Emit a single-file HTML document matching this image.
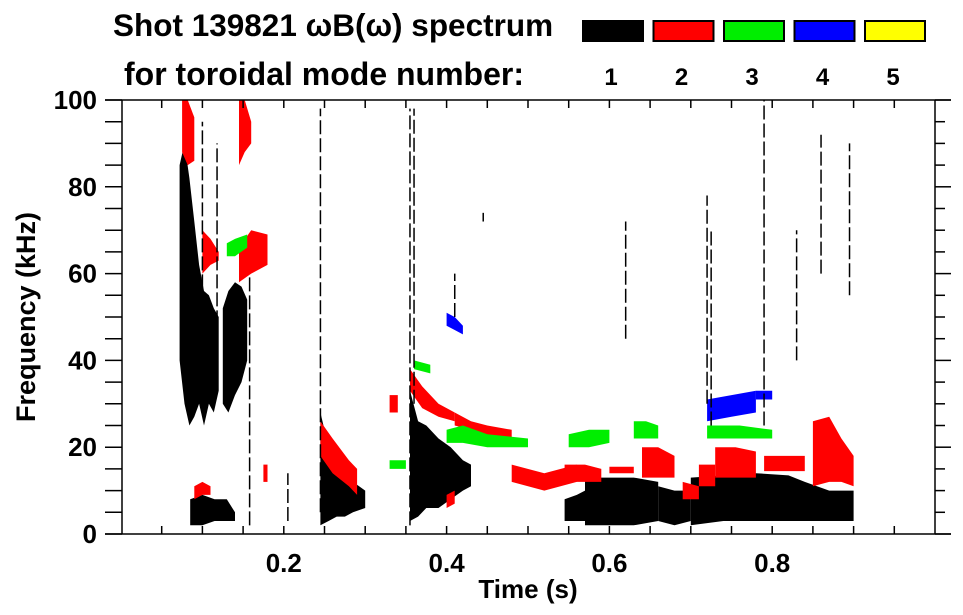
<!DOCTYPE html>
<html><head><meta charset="utf-8"><style>
html,body{margin:0;padding:0;background:#fff}
svg{display:block;font-family:"Liberation Sans",sans-serif;font-weight:bold}
</style></head><body>
<svg id="chart" width="963" height="615" viewBox="0 0 963 615">
<text x="113" y="36" font-size="31.5">Shot 139821 ωB(ω) spectrum</text>
<text x="124" y="85" font-size="32">for toroidal mode number:</text>
<g id="legend"></g>
<g id="marks"></g>
<g id="axes"></g>
<text x="528" y="598" font-size="26" text-anchor="middle">Time (s)</text>
<text transform="translate(35,317) rotate(-90)" font-size="27" text-anchor="middle">Frequency (kHz)</text>
</svg>
<script>
const modeColors = ["#000000","#ff0000","#00ee00","#0000ff","#ffff00"];
const modeLabels = ["1","2","3","4","5"];
const xTicks = [0.2,0.4,0.6,0.8];
const yTicks = [0,20,40,60,80,100];
// blobs: mode, times, low freq, high freq
const blobMode = [1,1,1,1,1,1,1,1,1,2,2,2,2,2,2,2,2,2,2,2,2,2,2,2,2,2,2,2,2,3,3,3,3,3,3,3,4,4,4];
const blobT = [
 [0.072,0.078,0.084,0.09,0.096,0.102,0.108,0.114,0.12],
 [0.125,0.132,0.14,0.148,0.155],
 [0.085,0.1,0.115,0.13,0.14],
 [0.245,0.255,0.265,0.275,0.285,0.3],
 [0.355,0.365,0.375,0.39,0.405,0.42,0.43],
 [0.545,0.56,0.57],
 [0.57,0.6,0.63,0.66],
 [0.66,0.68,0.7],
 [0.7,0.74,0.78,0.82,0.84,0.87,0.9],
 [0.075,0.082,0.09],
 [0.145,0.152,0.16],
 [0.1,0.11,0.12],
 [0.145,0.16,0.18],
 [0.245,0.26,0.28,0.29],
 [0.355,0.37,0.39,0.41],
 [0.41,0.43,0.45,0.48],
 [0.545,0.57,0.59],
 [0.6,0.63],
 [0.64,0.66,0.68],
 [0.69,0.71],
 [0.71,0.73],
 [0.73,0.755,0.78],
 [0.79,0.815,0.84],
 [0.85,0.87,0.885,0.9],
 [0.09,0.1,0.11],
 [0.48,0.52,0.56],
 [0.4,0.41],
 [0.175,0.18],
 [0.33,0.34],
 [0.13,0.14,0.155],
 [0.4,0.42,0.45,0.5],
 [0.55,0.575,0.6],
 [0.63,0.645,0.66],
 [0.72,0.76,0.8],
 [0.33,0.35],
 [0.36,0.38],
 [0.4,0.41,0.42],
 [0.72,0.75,0.78],
 [0.78,0.8]
];
const blobLo = [
 [40,30,25,27,30,25,30,28,33],[30,28,32,35,40],[2,2,3,3,3],[2,3,4,4,5,6],[3,4,6,6,8,10,11],
 [3,3,3],[2,2,2,3],[3,2,3],[2,3,3,3,3,3,3],
 [88,85,86],[85,88,90],[60,62,63],[58,60,62],[18,14,11,9],[33,29,27,26],[25,24,22,22],
 [12,12,12],[14,14],[13,13,13],[8,8],[11,11],[13,13,13],[14.5,14.5,14.5],[11,12,12,11],
 [8,9,9],[12,10,12],[6,7],[12,12],[28,28],
 [64,64,66],[21,21,20,20],[20,20,21],[22,22,22],[22,22,22],[15,15],[38,37],
 [48,47,46],[26,27,28],[31,31]
];
const blobHi = [
 [85,90,82,72,62,56,55,52,50],[52,56,58,57,54],[8,9,8,8,5],[28,20,17,15,12,10],[33,26,25,22,20,17,16],
 [8,9,10],[13,13,13,12],[11,10,10],[13,13.5,14,13.5,12,10,10],
 [100,100,96],[100,100,95],[70,68,65],[66,70,69],[26,22,17,15],[38,34,30,28],[28,26,25,24],
 [16,16,15],[15.5,15.5],[20,20,18],[12,11],[16,16],[20,20,19],[18,18,18],[26,27,22,18],
 [11,12,11],[16,14,16],[9,10],[16,16],[32,32],
 [67,68,69],[24,25,23,22],[23,24,24],[26,26,25],[25,25,24],[17,17],[40,39],
 [51,50,48],[31,32,33],[33,33]
];
// vertical streaks (mode 1): time, low freq, high freq
const streakT = [0.1,0.118,0.158,0.245,0.355,0.36,0.62,0.72,0.725,0.79,0.86,0.895,0.205,0.41,0.83,0.445];
const streakLo = [40,40,2,5,2,30,45,30,25,25,60,55,3,50,40,72];
const streakHi = [95,90,60,98,98,98,72,78,70,100,92,90,14,60,70,74];

const NS = "http://www.w3.org/2000/svg";
const X0 = 121, XW = 814, Y0 = 534, YH = 434;
function xs(t){return X0 + XW*t;}
function ys(f){return Y0 - YH*f/100;}
function mk(tag, attrs, parent){const e=document.createElementNS(NS,tag);for(const k in attrs)e.setAttribute(k,attrs[k]);parent.appendChild(e);return e;}

const marks = document.getElementById('marks');
for(let i=0;i<blobT.length;i++){
  const ts=blobT[i], lo=blobLo[i], hi=blobHi[i];
  let pts=[];
  for(let j=0;j<ts.length;j++) pts.push(xs(ts[j]).toFixed(1)+","+ys(hi[j]).toFixed(1));
  for(let j=ts.length-1;j>=0;j--) pts.push(xs(ts[j]).toFixed(1)+","+ys(lo[j]).toFixed(1));
  const p = mk('polygon',{points:pts.join(' '),fill:modeColors[blobMode[i]-1]},marks);
  
  
}
for(let i=0;i<streakT.length;i++){
  const l = mk('line',{x1:xs(streakT[i]),x2:xs(streakT[i]),y1:ys(streakLo[i]),y2:ys(streakHi[i]),stroke:"#000","stroke-width":1.5,"stroke-dasharray":"14 4"},marks);
  
  
}

const legend = document.getElementById('legend');
for(let i=0;i<modeColors.length;i++){
  const x = 582 + i*70.5;
  const r = mk('rect',{x:x+1,y:21,width:60,height:20,fill:modeColors[i],stroke:"#000","stroke-width":2},legend);
  
  
  const t = mk('text',{x:x+29,y:85,"font-size":24,"text-anchor":"middle"},legend);
  t.textContent = modeLabels[i];
  
  
}

const axes = document.getElementById('axes');
const st = {stroke:"#000","stroke-width":1.5};
mk('line',Object.assign({x1:105,x2:951,y1:100,y2:100},st),axes);
mk('line',Object.assign({x1:105,x2:951,y1:534,y2:534},st),axes);
mk('line',Object.assign({x1:122,x2:122,y1:100,y2:534},st),axes);
mk('line',Object.assign({x1:935,x2:935,y1:100,y2:534},st),axes);
for(let f=0;f<=100;f+=5){
  mk('line',Object.assign({x1:105,x2:122,y1:ys(f),y2:ys(f)},st),axes);
  mk('line',Object.assign({x1:935,x2:(f%20===0?951:945),y1:ys(f),y2:ys(f)},st),axes);
}
for(let k=1;k<20;k++){
  const t=k*0.05;
  mk('line',Object.assign({x1:xs(t),x2:xs(t),y1:534,y2:526},st),axes);
  mk('line',Object.assign({x1:xs(t),x2:xs(t),y1:100,y2:108},st),axes);
}
yTicks.forEach(v=>{
  const t = mk('text',{x:97,y:ys(v)+9,"font-size":26,"text-anchor":"end"},axes);
  t.textContent = v;
  
  
});
xTicks.forEach(v=>{
  const t = mk('text',{x:xs(v),y:572,"font-size":26,"text-anchor":"middle"},axes);
  t.textContent = v.toFixed(1);
  
  
});
</script>
</body></html>
